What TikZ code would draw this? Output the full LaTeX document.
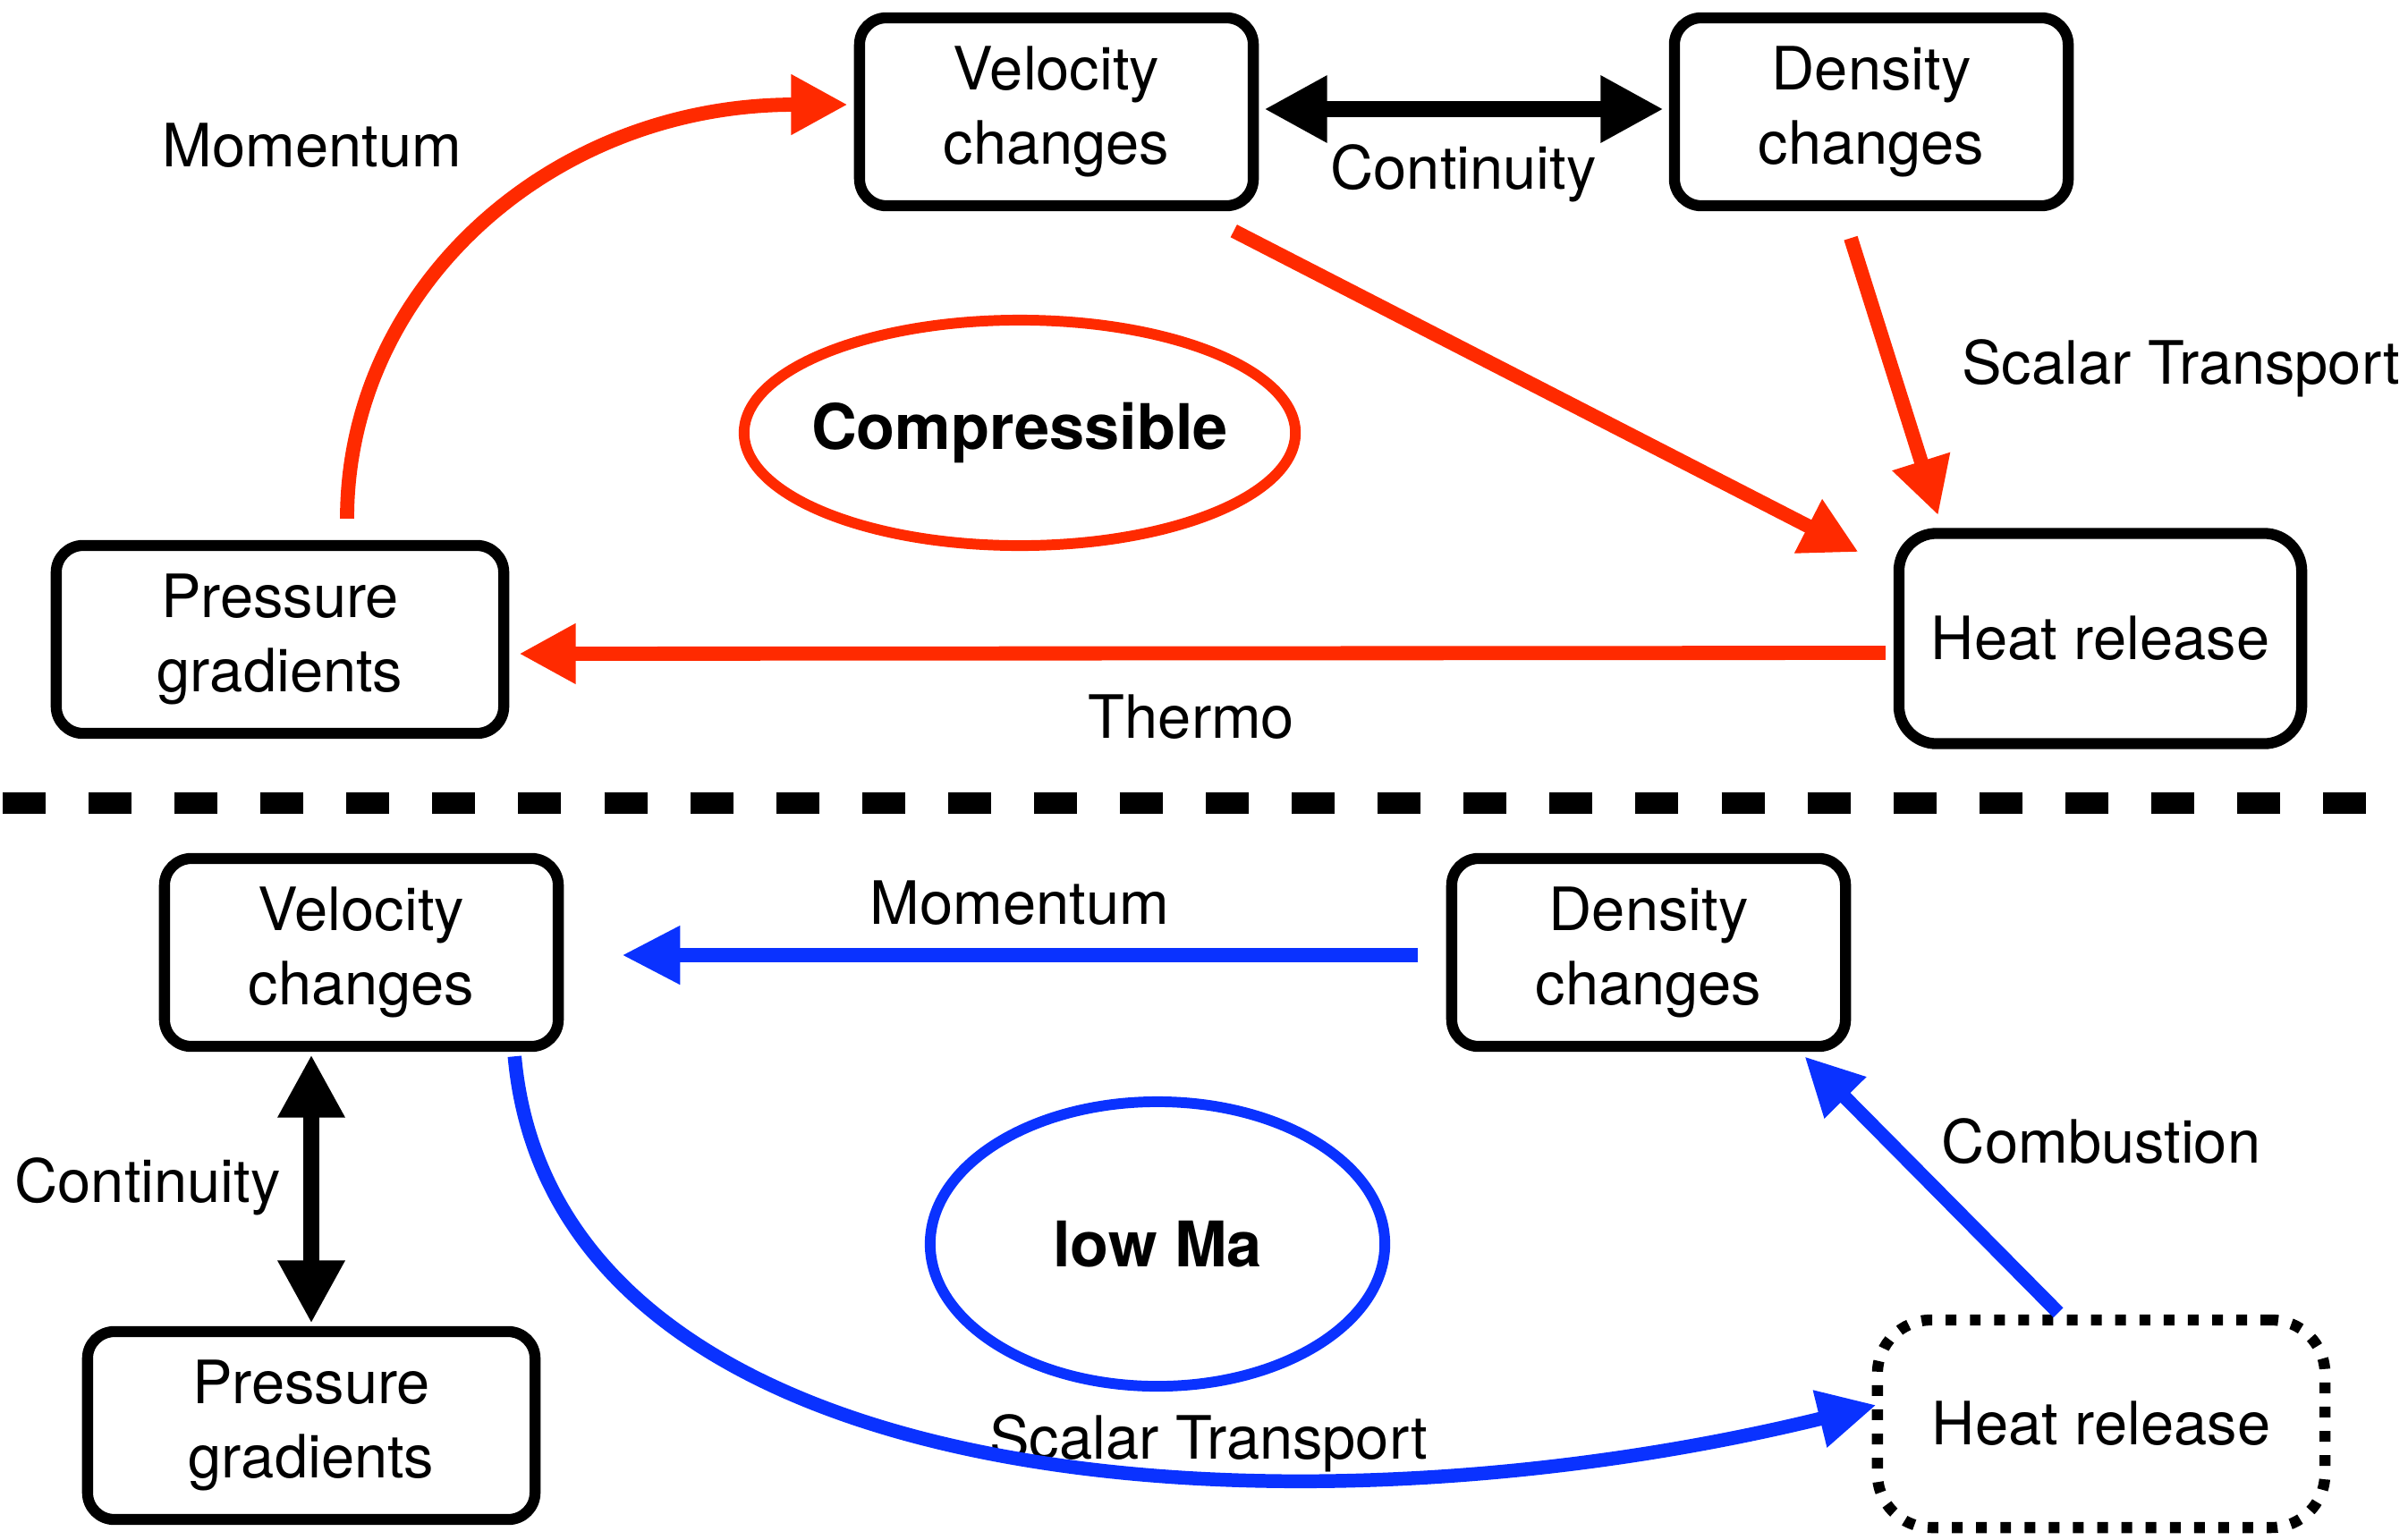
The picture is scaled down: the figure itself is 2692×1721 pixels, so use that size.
\documentclass[tikz,border=0pt]{standalone}
\usepackage{fontspec}
\setmainfont{TeX Gyre Heros}
\usepackage{tikz}
\usetikzlibrary{positioning}
\usetikzlibrary{calc}
\usetikzlibrary{arrows.meta}
\usetikzlibrary{shapes.geometric}

\definecolor{thermored}{RGB}{255,42,0}
\definecolor{lowmablue}{RGB}{10,50,255}

\tikzset{
    box/.style={draw, line width=3.5pt, rounded corners=0.3cm, align=center, inner sep=0pt, minimum width=4.4cm, minimum height=2.1cm},
    heatbox/.style={box, rounded corners=0.42cm, minimum width=4.5cm, minimum height=2.35cm},
    dottedbox/.style={box, rounded corners=0.6cm, dash pattern=on 3.4pt off 4.3pt, minimum width=5cm, minimum height=2.32cm},
    regime/.style={ellipse, line width=3.4pt, inner sep=0pt},
    regimetext/.style={font=\fontsize{20}{24}\selectfont\bfseries},
    redarrow/.style={draw=thermored, line width=4.5pt, -{Triangle[length=18pt,width=18pt]}},
    bluearrow/.style={draw=lowmablue, line width=4.4pt, -{Triangle[length=18.5pt,width=17.5pt]}},
    blackarrow/.style={draw=black, line width=5.2pt, {Triangle[length=20pt,width=20pt]}-{Triangle[length=20pt,width=20pt]}},
    divider/.style={line width=6.8pt, dash pattern=on 13.66pt off 13.66pt}
}

\begin{document}
\begin{tikzpicture}[x=0.01cm, y=-0.01cm, every node/.style={font=\fontsize{19}{23.5}\selectfont}]
    \useasboundingbox (0,0) rectangle (2692,1721);

    % compressible
    \node [box] (v1) at (1181,125) {Velocity\\changes};
    \node [box] (d1) at (2092,125) {Density\\changes};
    \node [box, minimum width=5cm] (p1) at (313,715) {Pressure\\gradients};
    \node [heatbox] (h1) at (2348,714) {Heat release};
    \node [regime, draw=thermored, minimum width=6.16cm, minimum height=2.52cm] (c1) at (1140,484) {};
    \node [regimetext] at (c1) {Compressible};

    \node (m1) at (349,163) {Momentum};
    \node (k1) at (1636,194) {Continuity};
    \node (s1) at (2438,412) {Scalar Transport};
    \node (t1) at (1332,802) {Thermo};

    \draw [redarrow] ($(p1.north)+(75,-24)$) .. controls +(0,-256) and +(-334,0) .. ($(v1.west)+(-7,-8)$);
    \draw [blackarrow, shorten <=0.06cm, shorten >=0.06cm] ($(v1.east)+(0,-3)$) -- ($(d1.west)+(0,-3)$);
    \draw [redarrow] ($(v1.south east)+(-28,22)$) -- ($(h1.north west)+(-39,27)$);
    \draw [redarrow] ($(d1.south)+(-23,30)$) -- ($(h1.north west)+(50,-14)$);
    \draw [redarrow] ($(h1.west)+(-9,16)$) -- ($(p1.east)+(11,16)$);

    \coordinate (divl) at (3,898);
    \coordinate (divr) at (2692,898);
    \draw [divider] (divl) -- (divr);

    % low Mach
    \node [box] (v2) at (404,1065) {Velocity\\changes};
    \node [box] (d2) at (1843,1065) {Density\\changes};
    \node [box, minimum width=5cm] (p2) at (348,1594) {Pressure\\gradients};
    \node [dottedbox] (h2) at (2349,1592) {Heat release};
    \node [regime, draw=lowmablue, minimum width=5.08cm, minimum height=3.18cm] (c2) at (1294,1391) {};
    \node [regimetext] at (c2) {low Ma};

    \node (m2) at (1140,1010) {Momentum};
    \node (k2) at (165,1327) {Continuity};
    \node (s2) at (1351,1614) {Scalar Transport};
    \node (b2) at (2349,1276) {Combustion};

    \draw [bluearrow] ($(d2.west)+(-32,3)$) -- ($(v2.east)+(65,3)$);
    \draw [blackarrow, shorten <=0.03cm, shorten >=0.03cm] (p2.north |- v2.south) -- (p2.north);
    \draw [bluearrow] ($(v2.south east)+(-55,5)$) .. controls +(45,499) and +(-648,159) .. ($(h2.west)+(5,-21)$);
    \draw [bluearrow] ($(h2.north)+(-48,-2)$) -- ($(d2.south east)+(-52,5)$);
\end{tikzpicture}
\end{document}
